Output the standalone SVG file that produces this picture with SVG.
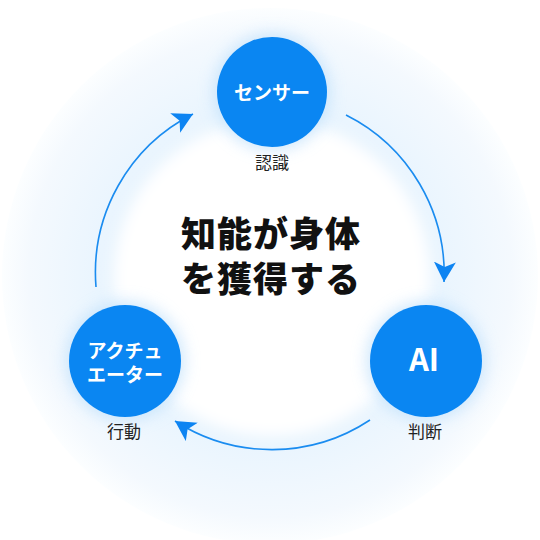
<svg xmlns="http://www.w3.org/2000/svg" width="540" height="540" viewBox="0 0 540 540">
  <defs>
    <radialGradient id="halo" cx="0.5" cy="0.5" r="0.5">
      <stop offset="0" stop-color="#e6f2fd"/>
      <stop offset="0.65" stop-color="#eaf5fe"/>
      <stop offset="0.9" stop-color="#f4f9fe"/>
      <stop offset="1" stop-color="#fcfeff"/>
    </radialGradient>
    <filter id="soft" x="-30%" y="-30%" width="160%" height="160%">
      <feGaussianBlur stdDeviation="7"/>
    </filter>
    <filter id="glow" x="-50%" y="-50%" width="200%" height="200%">
      <feGaussianBlur stdDeviation="8"/>
    </filter>
    <marker id="arrow" markerWidth="22" markerHeight="24" refX="20" refY="11" orient="auto" markerUnits="userSpaceOnUse">
      <path d="M0,0 L20,11 L0,22 L5,11 z" fill="#0d84f2"/>
    </marker>
    <style>
      .node { fill: #0a86f2; }
      .halo { fill: #bfe0fb; opacity: 0.8; }
      .nlabel { font-family: "Noto Sans CJK JP", "Noto Sans", sans-serif; font-weight: 700; fill: #ffffff; text-anchor: middle; }
      .sub { font-family: "Noto Sans CJK JP", "Noto Sans", sans-serif; font-size: 17px; fill: #222222; text-anchor: middle; }
      .title { font-family: "Noto Sans CJK JP", "Noto Sans", sans-serif; font-weight: 900; font-size: 35px; letter-spacing: 1px; fill: #111111; text-anchor: middle; }
      .conn { fill: none; stroke: #1a8cf0; stroke-width: 1.6; marker-end: url(#arrow); }
    </style>
  </defs>

  <rect width="540" height="540" fill="#ffffff"/>
  <g id="background">
    <circle cx="270" cy="276" r="268" fill="url(#halo)"/>
    <circle cx="272" cy="278" r="158" fill="#ffffff" filter="url(#soft)"/>
  </g>

  <g id="connectors">
    <path class="conn" d="M346,115 A178,178 0 0 1 444,282"/>
    <path class="conn" d="M370,420 A178,178 0 0 1 175,421"/>
    <path class="conn" d="M96,287 A178,178 0 0 1 193,114"/>
  </g>

  <g id="center-title">
    <text class="title" x="271" y="247">知能が身体</text>
    <text class="title" x="271" y="292">を獲得する</text>
  </g>

  <g id="node-sensor">
    <circle class="halo" cx="272" cy="92" r="58" filter="url(#glow)"/>
    <circle class="node" cx="272" cy="92" r="55"/>
    <text class="nlabel" x="272" y="100" font-size="19">センサー</text>
    <text class="sub" x="272" y="169">認識</text>
  </g>

  <g id="node-ai">
    <circle class="halo" cx="426" cy="361" r="59" filter="url(#glow)"/>
    <circle class="node" cx="426" cy="361" r="56"/>
    <text class="nlabel" x="424" y="371" font-size="31" font-family="Roboto, 'Noto Sans', sans-serif">AI</text>
    <text class="sub" x="425" y="438">判断</text>
  </g>

  <g id="node-actuator">
    <circle class="halo" cx="125" cy="361" r="59" filter="url(#glow)"/>
    <circle class="node" cx="125" cy="361" r="56"/>
    <text class="nlabel" x="125" y="358" font-size="19">アクチュ</text>
    <text class="nlabel" x="125" y="382" font-size="19">エーター</text>
    <text class="sub" x="124" y="438">行動</text>
  </g>
</svg>
